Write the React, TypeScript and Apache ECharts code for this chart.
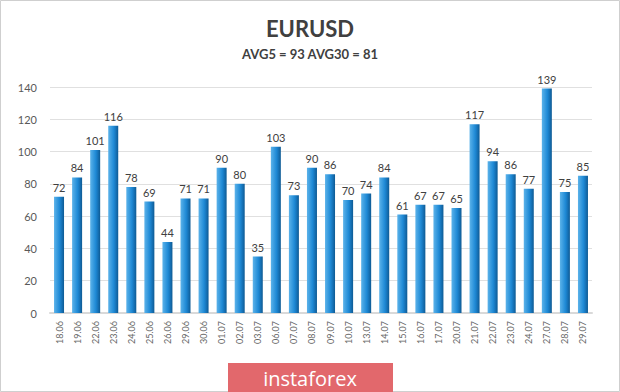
import React, { useEffect, useRef } from "react";
import * as echarts from "echarts";

const categories = ["18.06","19.06","22.06","23.06","24.06","25.06","26.06","29.06","30.06","01.07","02.07","03.07","06.07","07.07","08.07","09.07","10.07","13.07","14.07","15.07","16.07","17.07","20.07","21.07","22.07","23.07","24.07","27.07","28.07","29.07"];
const values = [72,84,101,116,78,69,44,71,71,90,80,35,103,73,90,86,70,74,84,61,67,67,65,117,94,86,77,139,75,85];
const titleText = "EURUSD";
const subtitleText = "AVG5 = 93 AVG30 = 81";
const brandText = "instaforex";

export default function App() {
  const ref = useRef<HTMLDivElement>(null);
  useEffect(() => {
    if (!ref.current) return;
    const chart = echarts.init(ref.current, null, { renderer: "svg" });
    chart.setOption({
      animation: false,
      backgroundColor: "#ffffff",
      title: {
        text: titleText,
        subtext: subtitleText,
        left: "center",
        top: 12,
        itemGap: 8,
        textStyle: { fontFamily: "Lato", fontWeight: "bold", fontSize: 22, color: "#404040" },
        subtextStyle: { fontFamily: "Lato", fontWeight: "bold", fontSize: 13, color: "#404040" },
      },
      grid: { left: 50, right: 28, top: 87, bottom: 79, containLabel: false },
      xAxis: {
        type: "category",
        data: categories,
        axisLine: { show: true, lineStyle: { color: "#d9d9d9", width: 2 } },
        axisTick: { show: false },
        axisLabel: { rotate: 90, fontSize: 9, color: "#666666", margin: 8, fontFamily: "Lato", interval: 0 },
      },
      yAxis: {
        type: "value",
        min: 0,
        max: 140,
        interval: 20,
        axisLine: { show: false },
        axisTick: { show: false },
        axisLabel: { fontSize: 11, color: "#595959", margin: 13, fontFamily: "Lato" },
        splitLine: { lineStyle: { color: "#e0e0e0", width: 1 } },
      },
      series: [
        {
          type: "bar",
          data: values,
          barWidth: 10,
          itemStyle: {
            color: new echarts.graphic.LinearGradient(0, 0, 1, 0, [
              { offset: 0, color: "#5cb3ea" },
              { offset: 0.55, color: "#1f8ad6" },
              { offset: 0.75, color: "#1775bb" },
              { offset: 1, color: "#0e5a93" },
            ]),
          },
          label: {
            show: true,
            position: "top",
            distance: 4,
            fontSize: 11,
            color: "#404040",
            fontFamily: "Lato",
          },
        },
      ],
      graphic: [
        {
          type: "rect",
          shape: { x: 0.5, y: 0.5, width: 619, height: 391 },
          style: { fill: "none", stroke: "#cfcfcf", lineWidth: 1 },
          silent: true,
        },
        {
          type: "rect",
          shape: { x: 228, y: 363, width: 165, height: 29 },
          style: { fill: "#e2686c" },
        },
        {
          type: "text",
          x: 310,
          y: 378,
          style: {
            text: brandText,
            fill: "#ffffff",
            fontSize: 20,
            fontFamily: "Open Sans",
            align: "center",
            verticalAlign: "middle",
          },
        },
      ],
    });
    return () => chart.dispose();
  }, []);
  return (
    <div style={{ position: "fixed", left: 0, top: 0, width: 620, height: 392 }}>
      <div ref={ref} style={{ width: 620, height: 392 }} />
    </div>
  );
}
